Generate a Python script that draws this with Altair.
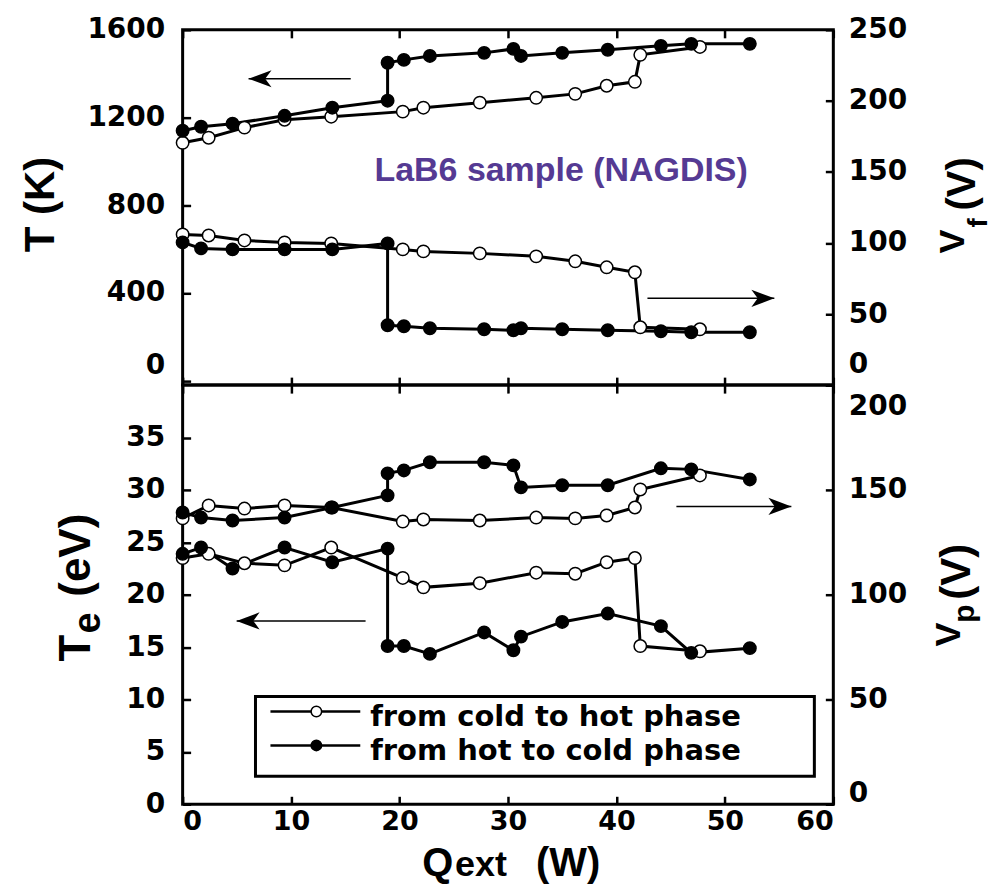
import altair as alt
import pandas as pd

# ---------------- data ----------------
C2H = "from cold to hot phase"
H2C = "from hot to cold phase"

# external heating power Q_ext (W)
q_cold_to_hot = [0.0, 2.4, 5.7, 9.4, 13.7, 20.3, 22.2, 27.4, 32.6, 36.2, 39.1, 41.7, 42.2, 47.7]
q_hot_to_cold = [0.0, 1.7, 4.6, 9.4, 13.8, 18.9, 18.9, 20.4, 22.8, 27.8, 30.5, 31.2, 35.0, 39.2, 44.1, 46.9, 52.3]

# sample temperature T (K)
T_cold_to_hot = [1085, 1108, 1154, 1190, 1204, 1227, 1245, 1268, 1290, 1308, 1345, 1363, 1486, 1522]
T_hot_to_cold = [1140, 1158, 1172, 1208, 1245, 1277, 1450, 1463, 1481, 1495, 1513, 1481, 1495, 1509, 1527, 1536, 1536]

# floating potential Vf (V)
Vf_cold_to_hot = [106.0, 105.3, 101.8, 100.4, 99.7, 95.5, 94.1, 92.7, 90.6, 87.1, 82.9, 79.4, 40.7, 39.3]
Vf_hot_to_cold = [100.4, 96.2, 95.5, 95.5, 95.5, 99.7, 42.1, 41.4, 40.0, 39.3, 38.6, 40.0, 39.3, 38.6, 37.9, 37.2, 37.2]

# electron temperature Te (eV)
Te_cold_to_hot = [23.5, 23.9, 23.0, 22.8, 24.5, 21.6, 20.7, 21.1, 22.1, 22.0, 23.1, 23.5, 15.1, 14.6]
Te_hot_to_cold = [23.9, 24.5, 22.5, 24.5, 23.1, 24.4, 15.1, 15.1, 14.35, 16.4, 14.7, 16.0, 17.4, 18.2, 17.0, 14.45, 14.9]

# plasma potential Vp (V)
Vp_cold_to_hot = [136.4, 142.6, 141.1, 142.6, 141.6, 134.9, 135.9, 135.4, 136.8, 136.4, 137.8, 141.6, 150.2, 156.9]
Vp_hot_to_cold = [139.2, 136.8, 135.4, 136.8, 141.6, 147.4, 157.9, 159.3, 163.2, 163.2, 161.7, 151.2, 152.2, 152.2, 160.3, 159.8, 155.0]

x_ticks = [0, 10, 20, 30, 40, 50, 60]
T_ticks = [0, 400, 800, 1200, 1600]
Vf_ticks = [0, 50, 100, 150, 200, 250]
Te_ticks = [0, 5, 10, 15, 20, 25, 30, 35]
Vp_ticks = [0, 50, 100, 150, 200]

n1, n2 = len(q_cold_to_hot), len(q_hot_to_cold)
df = pd.DataFrame({
    "Q": q_cold_to_hot + q_hot_to_cold,
    "T": T_cold_to_hot + T_hot_to_cold,
    "Vf": Vf_cold_to_hot + Vf_hot_to_cold,
    "Te": Te_cold_to_hot + Te_hot_to_cold,
    "Vp": Vp_cold_to_hot + Vp_hot_to_cold,
    "phase": [C2H] * n1 + [H2C] * n2,
    "idx": list(range(n1)) + list(range(n2)),
})

W, H1, H2 = 652, 356, 420
TICK = dict(tickSize=8, offset=-8, domain=False, grid=False, title=None,
            tickWidth=2.5, tickColor="black", format="d")

XSCALE = alt.Scale(domain=[0, 60], nice=False, zero=False)


def xaxis(orient, labels):
    return alt.Axis(orient=orient, values=x_ticks, labels=labels, labelPadding=4,
                    labelFontSize=27, **TICK)


def yaxis(orient, values, pad, offset_cond):
    kw = dict(orient=orient, values=values, labelPadding=pad, **TICK)
    if offset_cond is not None:
        kw["labelOffset"] = offset_cond
    return alt.Axis(**kw)


def xe(field, axis):
    return alt.X(f"{field}:Q", scale=XSCALE, axis=axis)


def ye(field, domain, axis):
    return alt.Y(f"{field}:Q", scale=alt.Scale(domain=domain, nice=False, zero=False), axis=axis)


FILL = alt.Fill("phase:N", scale=alt.Scale(domain=[C2H, H2C], range=["white", "black"]), legend=None)

LEFT_HEAD = "M0,0L2,-0.75L1.45,0L2,0.75Z"
RIGHT_HEAD = "M0,0L-2,-0.75L-1.45,0L-2,0.75Z"


def series(field, domain, xaxis_, yaxis_):
    base = alt.Chart(df)
    line = base.mark_line(color="black", strokeWidth=3).encode(
        x=xe("Q", xaxis_), y=ye(field, domain, yaxis_), detail="phase:N", order="idx:Q")
    pts = base.mark_point(shape="circle", filled=True, size=155, stroke="black",
                          strokeWidth=1.5, opacity=1).encode(
        x=xe("Q", xaxis_), y=ye(field, domain, yaxis_), fill=FILL)
    return [line, pts]


def arrow(field, domain, xaxis_, yaxis_, tail, tip, val, head):
    d = pd.DataFrame({"qa": [tail], "qb": [tip], field: [val]})
    rule = alt.Chart(d).mark_rule(color="black", strokeWidth=1.5).encode(
        x=xe("qa", xaxis_), x2="qb:Q", y=ye(field, domain, yaxis_))
    hd = alt.Chart(d).mark_point(shape=head, filled=True, color="black", size=529, opacity=1).encode(
        x=xe("qb", xaxis_), y=ye(field, domain, yaxis_))
    return [rule, hd]


def txt(text, x, y, size, angle=0, align="left", baseline="alphabetic",
        font="Liberation Sans", color="black"):
    return alt.Chart(alt.Data(values=[{"t": text}])).mark_text(
        align=align, baseline=baseline, angle=angle, font=font, fontSize=size,
        fontWeight="bold", color=color).encode(x=alt.value(x), y=alt.value(y), text="t:N")


# ---------------- top panel: T (left) and Vf (right) ----------------
T_dom = [-20, 1600]
Vf_dom = [0, 250]
ax_tb = xaxis("bottom", False)
ax_tt = xaxis("top", False)
ax_T = yaxis("left", T_ticks, 18, {"condition": {"test": "datum.value === 0", "value": -15}, "value": 0})
ax_Vf = yaxis("right", Vf_ticks, 15, {"condition": {"test": "datum.value === 0", "value": -21}, "value": 0})

lab_df = pd.DataFrame({"q": [34.9], "T": [958], "t": ["LaB6 sample (NAGDIS)"]})
lab = alt.Chart(lab_df).mark_text(font="Liberation Sans", fontWeight="bold", fontSize=34,
                                  color="#553a93", align="center", baseline="middle").encode(
    x=xe("q", ax_tb), y=ye("T", T_dom, ax_T), text="t:N")

top_left = alt.layer(
    *series("T", T_dom, ax_tb, ax_T),
    *arrow("T", T_dom, ax_tb, ax_T, 15.5, 6.08, 1377, LEFT_HEAD),
    lab,
    txt("T (K)", -142, 175, 42, angle=270, align="center", baseline="middle"),
)
top_right = alt.layer(
    *series("Vf", Vf_dom, ax_tt, ax_Vf),
    *arrow("Vf", Vf_dom, ax_tt, ax_Vf, 42.86, 54.56, 61.1, RIGHT_HEAD),
    txt("V", 783, 224, 36, angle=270),
    txt("f", 806, 198, 28, angle=270),
    txt("(V)", 794, 181, 40, angle=270),
)
top = alt.layer(top_left, top_right).resolve_scale(x="independent", y="independent").properties(
    width=W, height=H1)

# ---------------- bottom panel: Te (left) and Vp (right) ----------------
Te_dom = [0, 40]
Vp_dom = [0, 200]
ax_bb = xaxis("bottom", True)
ax_bt = xaxis("top", False)
ax_Te = yaxis("left", Te_ticks, 18, None)
ax_Vp = yaxis("right", Vp_ticks, 15, {"condition": [
    {"test": "datum.value === 0", "value": -11},
    {"test": "datum.value === 200", "value": 21}], "value": 0})

one = alt.Data(values=[{"a": 1}])
leg_box = alt.Chart(one).mark_rect(fill="white", stroke="black", strokeWidth=3).encode(
    x=alt.value(73), x2=alt.value(633), y=alt.value(312), y2=alt.value(392))
leg_items = [leg_box]
for yy, fillc, name, yb in [(327, "white", C2H, 342), (361, "black", H2C, 376)]:
    leg_items.append(alt.Chart(one).mark_rule(color="black", strokeWidth=2.5).encode(
        x=alt.value(88), x2=alt.value(178), y=alt.value(yy)))
    leg_items.append(alt.Chart(one).mark_point(shape="circle", filled=True, fill=fillc, stroke="black",
                                               strokeWidth=1.5, size=110, opacity=1).encode(
        x=alt.value(134), y=alt.value(yy)))
    leg_items.append(txt(name, 188, yb, 29, font="DejaVu Sans"))

bot_left = alt.layer(
    *series("Te", Te_dom, ax_bb, ax_Te),
    *arrow("Te", Te_dom, ax_bb, ax_Te, 16.87, 4.98, 17.5, LEFT_HEAD),
    *leg_items,
    txt("T", -93, 277, 44, angle=270),
    txt("e", -83, 249, 38, angle=270),
    txt("(eV)", -93, 212, 44, angle=270),
    txt("Q", 240, 492, 40),
    txt("ext", 273, 492, 36),
    txt("(W)", 354, 492, 40),
)
bot_right = alt.layer(
    *series("Vp", Vp_dom, ax_bt, ax_Vp),
    *arrow("Vp", Vp_dom, ax_bt, ax_Vp, 45.53, 56.13, 142.1, RIGHT_HEAD),
    txt("V", 779, 262, 36, angle=270),
    txt("p", 793, 238, 30, angle=270),
    txt("(V)", 789, 215, 42, angle=270),
)
bottom = alt.layer(bot_left, bot_right).resolve_scale(x="independent", y="independent").properties(
    width=W, height=H2)

chart = alt.vconcat(top, bottom, spacing=0, bounds="flush").properties(
    padding={"left": 18, "top": 13, "right": 0, "bottom": 0},
    background="white",
).configure_view(stroke="black", strokeWidth=3).configure_axis(
    labelFont="DejaVu Sans", labelFontWeight="bold", labelFontSize=28, labelColor="black",
)

chart.save("out.html", embed_options={"renderer": "svg", "actions": False})
